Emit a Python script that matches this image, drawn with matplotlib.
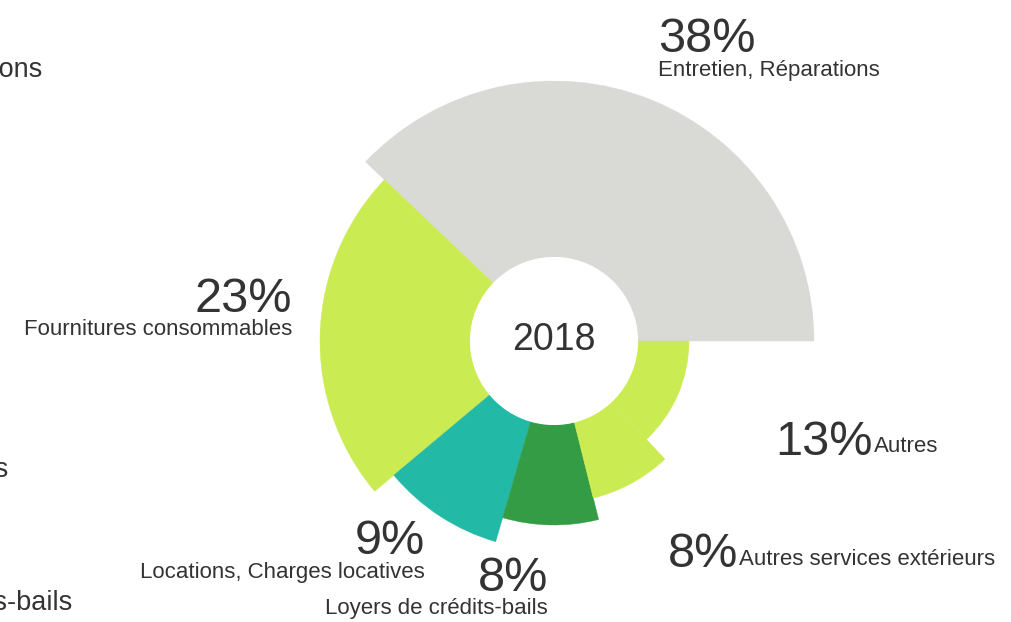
import matplotlib.pyplot as plt
from matplotlib.patches import Wedge, Circle

plt.rcParams["font.family"] = ["Liberation Sans", "DejaVu Sans"]

year = "2018"
categories = [
    "Entretien, Réparations",
    "Fournitures consommables",
    "Locations, Charges locatives",
    "Loyers de crédits-bails",
    "Autres services extérieurs",
    "Autres",
]
shares = [37.9, 23.2, 9.4, 8.4, 8.1, 13.0]

# neighbouring chart, only partly visible at the left edge
cut_labels = ["Entretien, Réparations", "Fournitures consommables", "Loyers de crédits-bails"]

colors = ["#d9d9d6", "#cbeb52", "#23b9a7", "#339c44", "#cbeb52", "#cbeb52"]
outer_r = [260, 234, 209, 184, 162, 135]
inner_r = 84
cx, cy = 554, 281
text_color = "#333333"

W, H = 1011, 622
fig = plt.figure(figsize=(W / 100, H / 100), dpi=100)
ax = fig.add_axes([0, 0, 1, 1])
ax.set_xlim(0, W)
ax.set_ylim(0, H)
ax.axis("off")

total = sum(shares)
start = 0.0
for share, color, r in zip(shares, colors, outer_r):
    span = share / total * 360
    ax.add_patch(Wedge((cx, cy), r, start, start + span, width=r - inner_r,
                       facecolor=color, edgecolor=color, linewidth=0.3))
    start += span

ax.add_patch(Circle((cx, cy), inner_r, facecolor="white", edgecolor="none"))
ax.text(cx, cy + 1, year, ha="center", va="center", fontsize=27, color=text_color)

big = 35
small = 16

# (x, baseline of pct, baseline of name, alignment, inline)
label_pos = [
    (658, 570, 546, "left", False),
    (292, 310, 287, "right", False),
    (425, 68, 44, "right", False),
    (548, 31, 8, "right", False),
    (668, 55, 57, "left", True),
    (775, 167, 170, "left", True),
]

for name, share, (x, yp, yn, ha, inline) in zip(categories, shares, label_pos):
    pct = ax.text(x, yp, f"{round(share)}%", ha=ha, va="baseline",
                  fontsize=big, color=text_color)
    if inline:
        fig.canvas.draw()
        bb = pct.get_window_extent()
        ax.text(bb.x1 + 1, yn, name, ha="left", va="baseline",
                fontsize=small, color=text_color)
    else:
        ax.text(x, yn, name, ha=ha, va="baseline", fontsize=small, color=text_color)

for name, (x, y) in zip(cut_labels, [(42, 545), (8, 145), (72, 12)]):
    ax.text(x, y, name, ha="right", va="baseline", fontsize=19.5, color=text_color)

fig.savefig("out.png", dpi=100)
plt.close(fig)
